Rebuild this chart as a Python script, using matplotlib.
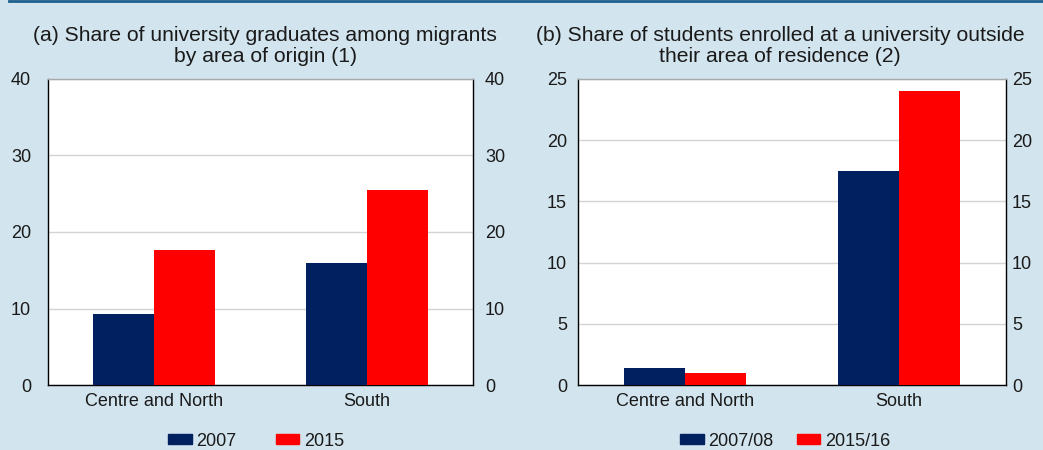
import matplotlib
matplotlib.use("Agg")
import matplotlib.pyplot as plt
from matplotlib.lines import Line2D
from matplotlib.patches import Patch
import numpy as np

plt.rcParams['font.family'] = ['Liberation Sans', 'DejaVu Sans']

categories = ["Centre and North", "South"]

# Panel (a): share of university graduates among migrants, by area of origin
a_series = ["2007", "2015"]
a_2007 = [9.3, 15.9]
a_2015 = [17.6, 25.5]
a_ticks = [0, 10, 20, 30, 40]

# Panel (b): share of students enrolled outside their area of residence
b_series = ["2007/08", "2015/16"]
b_0708 = [1.4, 17.5]
b_1516 = [1.0, 24.0]
b_ticks = [0, 5, 10, 15, 20, 25]

BG = "#D2E4EE"
NAVY = "#002060"
RED = "#FF0000"
TXT = "#1a1a1a"
W, H = 1043, 450
FS = 13

fig = plt.figure(figsize=(W / 100, H / 100), dpi=100, facecolor=BG)

# thin dark rule along the top edge
fig.add_artist(Line2D([9 / W, 1], [1 - 1 / H, 1 - 1 / H], transform=fig.transFigure,
                      color="#1F5F8B", lw=2))


def panel(left_px, right_px, values1, values2, ticks, names, title, title_x,
          leg_x, colsp, lpad, rpad):
    top_px, bot_px = 79, 385
    ax = fig.add_axes([left_px / W, 1 - bot_px / H,
                       (right_px - left_px) / W, (bot_px - top_px) / H])
    ax.set_facecolor("white")
    x = np.arange(len(categories))
    bw = 0.287
    ax.bar(x - bw / 2, values1, bw, color=NAVY, zorder=3, label=names[0])
    ax.bar(x + bw / 2, values2, bw, color=RED, zorder=3, label=names[1])
    ax.set_xlim(-0.5, 1.5)
    ax.set_ylim(ticks[0], ticks[-1])
    ax.set_yticks(ticks)
    ax.set_xticks(x)
    ax.set_xticklabels(categories)
    ax.grid(axis="y", color="#D4D4D4", lw=1, zorder=0)
    ax.tick_params(axis="both", length=0, labelsize=FS, colors=TXT)
    ax.tick_params(axis="y", pad=lpad)
    ax.tick_params(axis="x", pad=6)
    for s in ("left", "right", "bottom"):
        ax.spines[s].set_color("black")
        ax.spines[s].set_linewidth(1)
    ax.spines["top"].set_color("#A8A8A8")
    ax.spines["top"].set_linewidth(1)

    ax2 = ax.twinx()
    ax2.set_ylim(ticks[0], ticks[-1])
    ax2.set_yticks(ticks)
    ax2.tick_params(axis="y", length=0, labelsize=FS, colors=TXT, pad=rpad)
    for s in ax2.spines.values():
        s.set_visible(False)

    fig.text(title_x / W, 1 - 26 / H, title, ha="center", va="top",
             fontsize=15.2, color=TXT, linespacing=1.1)

    handles = [Patch(color=NAVY), Patch(color=RED)]
    fig.legend(handles, names, loc="center", bbox_to_anchor=(leg_x / W, 1 - 441 / H),
               ncol=2, frameon=False, fontsize=FS, handlelength=1.3,
               handleheight=0.45, handletextpad=0.25, columnspacing=colsp,
               borderpad=0, labelcolor=TXT)
    return ax


panel(48, 473, a_2007, a_2015, a_ticks, a_series,
      "(a) Share of university graduates among migrants\nby area of origin (1)",
      265, 256, 2.2, 12.2, 8.6)
panel(578, 1006, b_0708, b_1516, b_ticks, b_series,
      "(b) Share of students enrolled at a university outside\ntheir area of residence (2)",
      780, 785, 1.3, 8, 4.3)

fig.savefig("out.png", dpi=100, facecolor=BG)
